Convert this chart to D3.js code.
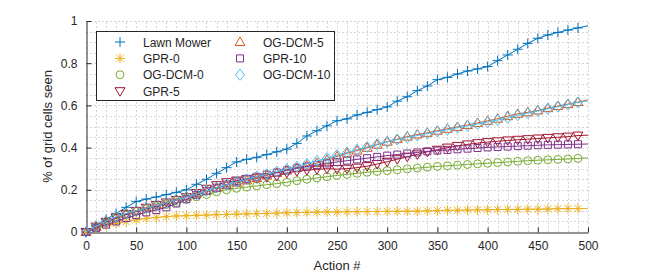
<!DOCTYPE html>
<html>
<head>
<meta charset="utf-8">
<script src="https://cdn.jsdelivr.net/npm/d3@7"></script>
<style>
  body { margin: 0; background: #fff; }
  text { font-family: "Liberation Sans", Arial, sans-serif; fill: #262626; }
</style>
</head>
<body>
<div id="chart"></div>
<script>
// actions 0..500, every 10
const actions = d3.range(0, 501, 10);

const lawnMower = [0, 0.03, 0.06, 0.088, 0.117, 0.144, 0.156, 0.166, 0.177, 0.188, 0.2, 0.226, 0.25, 0.278, 0.305, 0.332, 0.344, 0.354, 0.367, 0.38, 0.393, 0.42, 0.455, 0.48, 0.503, 0.527, 0.536, 0.555, 0.567, 0.58, 0.593, 0.62, 0.641, 0.67, 0.692, 0.722, 0.733, 0.749, 0.763, 0.773, 0.784, 0.812, 0.839, 0.866, 0.894, 0.918, 0.934, 0.946, 0.957, 0.967, 0.978];
const gpr0 = [0, 0.015, 0.03, 0.04, 0.049, 0.057, 0.064, 0.069, 0.073, 0.076, 0.077, 0.079, 0.08, 0.082, 0.083, 0.085, 0.086, 0.087, 0.088, 0.089, 0.091, 0.092, 0.093, 0.094, 0.095, 0.095, 0.096, 0.096, 0.097, 0.097, 0.098, 0.098, 0.099, 0.099, 0.1, 0.101, 0.103, 0.103, 0.104, 0.105, 0.105, 0.106, 0.107, 0.107, 0.108, 0.108, 0.109, 0.11, 0.111, 0.111, 0.111];
const ogdcm0 = [0, 0.022, 0.045, 0.065, 0.082, 0.097, 0.11, 0.12, 0.13, 0.14, 0.155, 0.167, 0.178, 0.19, 0.2, 0.207, 0.213, 0.219, 0.224, 0.229, 0.236, 0.243, 0.25, 0.256, 0.262, 0.268, 0.273, 0.278, 0.283, 0.287, 0.291, 0.295, 0.299, 0.303, 0.307, 0.311, 0.314, 0.317, 0.32, 0.323, 0.326, 0.329, 0.332, 0.335, 0.338, 0.34, 0.342, 0.344, 0.346, 0.349, 0.351];
const gpr5 = [0, 0.025, 0.048, 0.068, 0.085, 0.1, 0.115, 0.128, 0.14, 0.152, 0.165, 0.185, 0.205, 0.222, 0.236, 0.244, 0.25, 0.255, 0.26, 0.265, 0.28, 0.288, 0.293, 0.297, 0.3, 0.298, 0.3, 0.305, 0.312, 0.322, 0.333, 0.345, 0.357, 0.368, 0.38, 0.39, 0.4, 0.408, 0.415, 0.421, 0.426, 0.43, 0.434, 0.437, 0.44, 0.443, 0.446, 0.449, 0.452, 0.457, 0.459];
const ogdcm5 = [0, 0.025, 0.05, 0.07, 0.087, 0.102, 0.117, 0.13, 0.142, 0.155, 0.168, 0.182, 0.196, 0.21, 0.222, 0.234, 0.245, 0.256, 0.268, 0.28, 0.292, 0.303, 0.315, 0.327, 0.342, 0.358, 0.373, 0.386, 0.399, 0.414, 0.428, 0.44, 0.452, 0.462, 0.47, 0.48, 0.489, 0.498, 0.507, 0.517, 0.527, 0.537, 0.549, 0.56, 0.567, 0.576, 0.587, 0.597, 0.606, 0.616, 0.626];
const gpr10 = [0, 0.018, 0.035, 0.05, 0.066, 0.08, 0.093, 0.104, 0.117, 0.135, 0.155, 0.175, 0.195, 0.21, 0.225, 0.24, 0.252, 0.262, 0.272, 0.282, 0.292, 0.302, 0.31, 0.318, 0.325, 0.332, 0.338, 0.344, 0.35, 0.356, 0.362, 0.367, 0.372, 0.377, 0.382, 0.386, 0.389, 0.392, 0.395, 0.398, 0.401, 0.403, 0.405, 0.407, 0.409, 0.411, 0.413, 0.414, 0.415, 0.416, 0.417];
const ogdcm10 = [0, 0.027, 0.052, 0.072, 0.088, 0.1, 0.114, 0.127, 0.14, 0.153, 0.166, 0.18, 0.195, 0.21, 0.224, 0.237, 0.25, 0.262, 0.274, 0.286, 0.298, 0.31, 0.323, 0.336, 0.35, 0.364, 0.377, 0.39, 0.403, 0.416, 0.427, 0.438, 0.448, 0.457, 0.466, 0.476, 0.485, 0.494, 0.503, 0.512, 0.521, 0.53, 0.541, 0.553, 0.563, 0.573, 0.584, 0.594, 0.604, 0.614, 0.622];

const seriesNames = ["Lawn Mower", "GPR-0", "OG-DCM-0", "GPR-5", "OG-DCM-5", "GPR-10", "OG-DCM-10"];
const seriesValues = [lawnMower, gpr0, ogdcm0, gpr5, ogdcm5, gpr10, ogdcm10];
const seriesColors = ["#0072BD", "#EDB120", "#77AC30", "#A2142F", "#D95319", "#7E2F8E", "#4DBEEE"];
const seriesMarkers = ["plus", "asterisk", "circle", "triDown", "triUp", "square", "diamond"];

const xTicks = [0, 50, 100, 150, 200, 250, 300, 350, 400, 450, 500];
const yTicks = [0, 0.2, 0.4, 0.6, 0.8, 1];

const width = 650, height = 275;
const margin = { left: 86, right: 62, top: 21, bottom: 43 };

const svg = d3.select("#chart").append("svg")
  .attr("width", width)
  .attr("height", height);

const x = d3.scaleLinear().domain([0, 500]).range([margin.left, width - margin.right]);
const y = d3.scaleLinear().domain([0, 1]).range([height - margin.bottom, margin.top]);

// grid (major + minor), dashed
const grid = svg.append("g").attr("stroke", "#d6d6d6").attr("stroke-dasharray", "2,2");
grid.selectAll(".gx").data(d3.range(10, 501, 10)).enter().append("line")
  .attr("x1", d => Math.round(x(d)) + 0.5).attr("x2", d => Math.round(x(d)) + 0.5)
  .attr("y1", y(0)).attr("y2", y(1));
grid.selectAll(".gy").data(d3.range(1, 21).map(i => i * 0.05)).enter().append("line")
  .attr("y1", d => Math.round(y(d)) + 0.5).attr("y2", d => Math.round(y(d)) + 0.5)
  .attr("x1", x(0)).attr("x2", x(500));

// axes
const xAxis = d3.axisBottom(x).tickValues(xTicks).tickSizeInner(-5).tickSizeOuter(0).tickPadding(9);
const yAxis = d3.axisLeft(y).tickValues(yTicks).tickSizeInner(-5).tickSizeOuter(0).tickPadding(9)
  .tickFormat(d3.format("~g"));

const gx = svg.append("g").attr("transform", `translate(0,${Math.round(y(0)) + 0.5})`).call(xAxis);
const gy = svg.append("g").attr("transform", `translate(${Math.round(x(0)) + 0.5},0)`).call(yAxis);
[gx, gy].forEach(g => {
  g.select(".domain").attr("stroke", "#262626");
  g.selectAll(".tick line").attr("stroke", "#262626");
  g.selectAll(".tick text").attr("font-size", 12).attr("fill", "#404040")
    .style("font-family", "'Liberation Sans', Arial, sans-serif");
});

// marker shapes
function markerPath(type) {
  switch (type) {
    case "plus": return "M-5,0H5M0,-5V5";
    case "asterisk": return "M-5,0H5M0,-5V5M-3.5,-3.5L3.5,3.5M-3.5,3.5L3.5,-3.5";
    case "circle": return d3.symbol(d3.symbolCircle, 50)();
    case "triDown": return "M-5,-3.5L5,-3.5L0,5Z";
    case "triUp": return "M-5,3.5L5,3.5L0,-5Z";
    case "square": return "M-3.5,-3.5H3.5V3.5H-3.5Z";
    case "diamond": return "M0,-5.5L4.5,0L0,5.5L-4.5,0Z";
  }
}

const plot = svg.append("g");
const line = d3.line().x((d, i) => x(actions[i])).y(d => y(d));

seriesValues.forEach((vals, s) => {
  const g = plot.append("g");
  g.append("path")
    .attr("d", line(vals))
    .attr("fill", "none")
    .attr("stroke", seriesColors[s])
    .attr("stroke-width", 1);
  g.selectAll("path.m").data(vals.slice(0, vals.length - 1)).enter().append("path")
    .attr("class", "m")
    .attr("d", markerPath(seriesMarkers[s]))
    .attr("transform", (d, i) => `translate(${x(actions[i])},${y(d)})`)
    .attr("fill", "none")
    .attr("stroke", seriesColors[s])
    .attr("stroke-width", 1);
});

// axis labels
svg.append("text")
  .attr("x", (x(0) + x(500)) / 2).attr("y", 270)
  .attr("text-anchor", "middle").attr("font-size", 13).attr("fill", "#262626")
  .text("Action #");
svg.append("text")
  .attr("transform", `translate(52,${(y(0) + y(1)) / 2}) rotate(-90)`)
  .attr("text-anchor", "middle").attr("font-size", 13).attr("fill", "#262626")
  .text("% of grid cells seen");

// legend
const legend = svg.append("g");
legend.append("rect")
  .attr("x", 96.5).attr("y", 31.5).attr("width", 238).attr("height", 69)
  .attr("fill", "#fff").attr("stroke", "#262626").attr("stroke-width", 1);
seriesNames.forEach((name, s) => {
  const col = s < 4 ? 0 : 1;
  const row = s < 4 ? s : s - 4;
  const mx = col === 0 ? 120 : 240;
  const my = 42 + row * 16.4;
  legend.append("path")
    .attr("d", markerPath(seriesMarkers[s]))
    .attr("transform", `translate(${mx},${my})`)
    .attr("fill", "none").attr("stroke", seriesColors[s]).attr("stroke-width", 1);
  legend.append("text")
    .attr("x", mx + 23).attr("y", my + 4.5)
    .attr("font-size", 12).attr("fill", "#000")
    .text(name);
});
</script>
</body>
</html>
